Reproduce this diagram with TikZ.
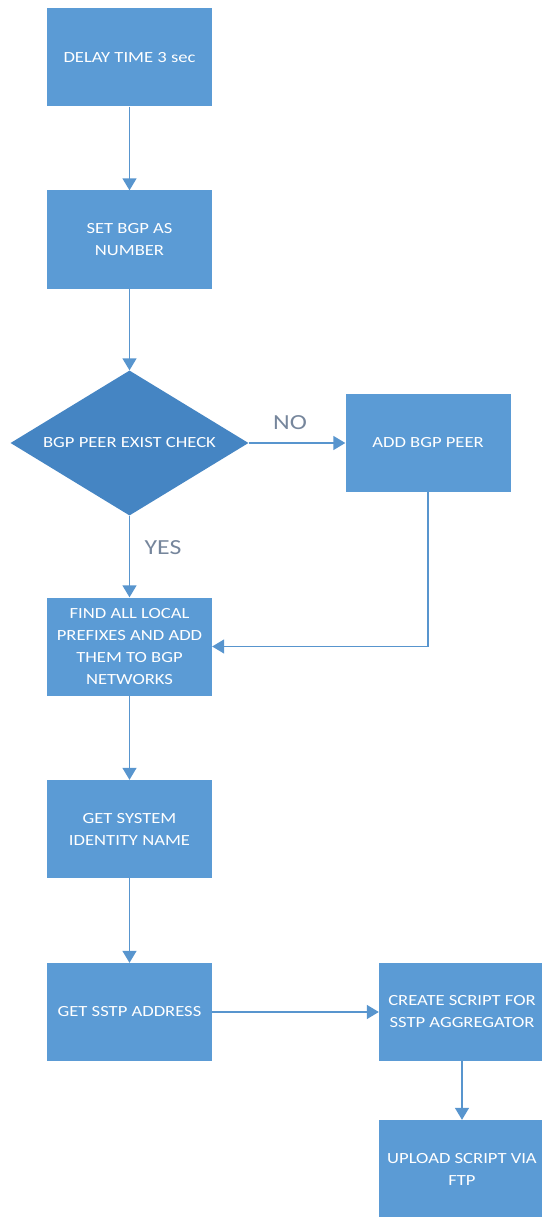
\documentclass[tikz,border=0pt]{standalone}
\usepackage{fontspec}
\setmainfont{Carlito}[FakeStretch=1.2]
\usetikzlibrary{shapes.geometric,arrows.meta}

\definecolor{boxblue}{RGB}{91,155,213}
\definecolor{decblue}{RGB}{69,133,195}
\definecolor{lineblue}{RGB}{88,149,206}
\definecolor{lblgray}{RGB}{118,134,156}

\tikzset{
  stepbox/.style={rectangle, fill=boxblue, draw=none, text=white,
    minimum width=165pt, minimum height=98pt, inner sep=0pt,
    align=center, font=\fontsize{15.5}{22}\selectfont},
  decision/.style={diamond, fill=decblue, draw=none, text=white,
    minimum width=238pt, minimum height=145pt, inner sep=0pt, aspect=1.64,
    align=center, font=\fontsize{15.5}{22}\selectfont},
  flow/.style={draw=lineblue, line width=1.5pt,
    -{Triangle[width=14pt,length=12pt]}},
  branch/.style={text=lblgray, font=\fontsize{21.5}{24}\selectfont, inner sep=0pt}
}

\begin{document}
\begin{tikzpicture}[x=1pt, y=-1pt]
  \useasboundingbox (0,0) rectangle (541,1217);

  % main column
  \node[stepbox] (delay)  at (129.5,57.5)  {DELAY TIME 3 sec};
  \node[stepbox] (asnum)  at (129.5,239.5) {SET BGP AS\\NUMBER};
  \node[decision] (check) at (129.5,443)   {BGP PEER EXIST CHECK};
  \node[stepbox] (addpeer) at (428,443)    {ADD BGP PEER};
  \node[stepbox] (prefix) at (129.5,646.5) {FIND ALL LOCAL\\PREFIXES AND ADD\\THEM TO BGP\\NETWORKS};
  \node[stepbox] (ident)  at (129.5,829)   {GET SYSTEM\\IDENTITY NAME};
  \node[stepbox] (sstp)   at (129.5,1012)  {GET SSTP ADDRESS};

  % right column
  \node[stepbox, minimum width=166pt] (create) at (462,1012) {CREATE SCRIPT FOR\\SSTP AGGREGATOR};
  \node[stepbox, minimum width=166pt] (upload) at (462,1169) {UPLOAD SCRIPT VIA\\FTP};

  % branch labels
  \node[branch] (no)  at (290,423) {NO};
  \node[branch] (yes) at (163,548) {YES};

  % connectors
  \draw[flow] (delay.south) -- (asnum.north);
  \draw[flow] (asnum.south) -- (check.north);
  \draw[flow] (check.east) -- (addpeer.west);
  \draw[flow] (check.south) -- (prefix.north);
  \draw[flow] (addpeer.south) |- (prefix.east);
  \draw[flow] (prefix.south) -- (ident.north);
  \draw[flow] (ident.south) -- (sstp.north);
  \draw[flow] (sstp.east) -- (create.west);
  \draw[flow] (create.south) -- (upload.north);
\end{tikzpicture}
\end{document}
